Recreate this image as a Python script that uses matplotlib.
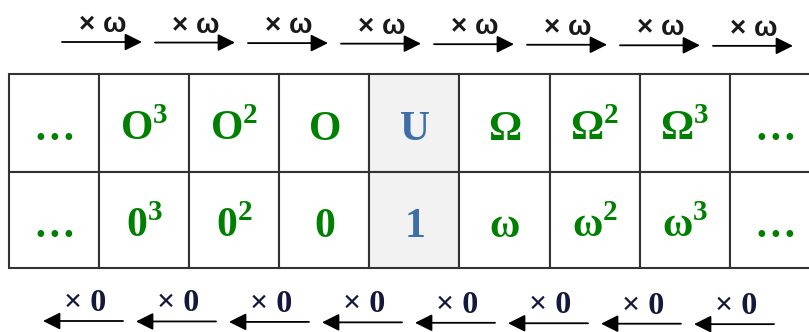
import matplotlib.pyplot as plt
from matplotlib.patches import Rectangle

plt.rcParams['mathtext.fontset'] = 'custom'
plt.rcParams['mathtext.rm'] = 'Liberation Serif'
plt.rcParams['mathtext.bf'] = 'Liberation Serif:bold'

# table content
top_row = ['…', r'$\mathbf{O}^{\mathbf{3}}$', r'$\mathbf{O}^{\mathbf{2}}$', r'$\mathbf{O}$', r'$\mathbf{U}$',
           r'$\mathbf{Ω}$', r'$\mathbf{Ω}^{\mathbf{2}}$', r'$\mathbf{Ω}^{\mathbf{3}}$', '…']
bottom_row = ['…', r'$\mathbf{0}^{\mathbf{3}}$', r'$\mathbf{0}^{\mathbf{2}}$', r'$\mathbf{0}$', r'$\mathbf{1}$',
              r'$\mathbf{ω}$', r'$\mathbf{ω}^{\mathbf{2}}$', r'$\mathbf{ω}^{\mathbf{3}}$', '…']
highlight_col = 4
top_arrow_label = '× ω'
bottom_arrow_label = '× 0'
n_arrows = 8

green = '#008000'
blue = '#3d6ea8'

fig = plt.figure(figsize=(8.09, 3.32), dpi=100)
ax = fig.add_axes([0, 0, 1, 1])
ax.set_xlim(0, 809)
ax.set_ylim(332, 0)
ax.axis('off')

x0, cw = 9, 90.1
row_tops = [74, 172]
row_h = [98, 96]
baselines = [140, 237]

for r, labels in enumerate([top_row, bottom_row]):
    for c, lab in enumerate(labels):
        fc = '#f2f2f2' if c == highlight_col else 'white'
        ax.add_patch(Rectangle((x0 + c*cw, row_tops[r]), cw, row_h[r],
                               facecolor=fc, edgecolor='#333333', lw=1.5))
        col = blue if c == highlight_col else green
        ax.text(x0 + c*cw + cw/2, baselines[r], lab, ha='center', va='baseline',
                fontsize=30, color=col, fontweight='bold', family='Liberation Serif')

# arrows above (right) and below (left)
for i in range(n_arrows):
    xs = 62 + i*93
    y = 42 + i*0.55
    ax.annotate('', xy=(xs + 80, y), xytext=(xs, y),
                arrowprops=dict(arrowstyle='-|>', mutation_scale=26, lw=1.3,
                                color='black', shrinkA=0, shrinkB=0))
    ax.text(xs + 41, y - 10, top_arrow_label, ha='center', va='baseline',
            fontsize=20, color='#1a1a1a', fontweight='bold', family='Liberation Sans')

    xb = 43 + i*93
    yb = 321 + i*0.45
    ax.annotate('', xy=(xb, yb), xytext=(xb + 80, yb),
                arrowprops=dict(arrowstyle='-|>', mutation_scale=26, lw=1.3,
                                color='black', shrinkA=0, shrinkB=0))
    ax.text(xb + 42, yb - 10, bottom_arrow_label, ha='center', va='baseline',
            fontsize=23, color='#14183a', fontweight='bold', family='Liberation Serif')

fig.savefig('out.png', dpi=100)
